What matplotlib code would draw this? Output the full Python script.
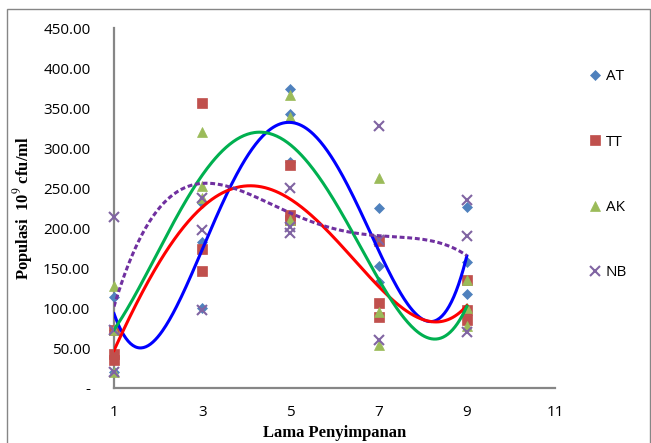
import numpy as np
import matplotlib
matplotlib.use('Agg')
import matplotlib.pyplot as plt
from matplotlib.patches import Rectangle

# lama penyimpanan (hari)
hari = [1, 3, 5, 7, 9]

# populasi tiap ulangan (3 ulangan per titik)
at_1 = [114, 231, 374, 225, 226]
at_2 = [72, 183, 342, 153, 158]
at_3 = [20, 100, 283, 133, 118]

tt_1 = [72, 356, 279, 184, 135]
tt_2 = [42, 174, 216, 106, 97]
tt_3 = [35, 146, 210, 89, 85]

ak_1 = [127, 320, 366, 262, 135]
ak_2 = [72, 252, 339, 95, 100]
ak_3 = [20, 238, 210, 54, 77]

nb_1 = [214, 197, 250, 328, 235]
nb_2 = [72, 97, 201, 185, 190]
nb_3 = [20, 237, 194, 60, 70]

# nilai garis tren (poly orde 4)
at_tren = [93, 173, 332, 172, 165]
tt_tren = [47, 226, 236, 127, 103]
ak_tren = [73, 266, 304, 136, 102]
# garis NB (titik-titik) dibaca tiap hari 1..9
hari_nb = [1, 2, 3, 4, 5, 6, 7, 8, 9]
nb_tren = [102, 222, 258, 243, 217, 200, 192, 184, 166]

yticks = [0, 50, 100, 150, 200, 250, 300, 350, 400, 450]
ytick_labels = ['-', '50.00', '100.00', '150.00', '200.00', '250.00',
                '300.00', '350.00', '400.00', '450.00']
xticks = [1, 3, 5, 7, 9, 11]

plt.rcParams['font.family'] = ['Open Sans', 'DejaVu Sans']
plt.rcParams['mathtext.fontset'] = 'stix'

fig = plt.figure(figsize=(6.51, 4.43), dpi=100)
ax = fig.add_axes([114 / 651, 55 / 443, 441 / 651, 360 / 443])

series = [
    ('AT', [at_1, at_2, at_3], hari, at_tren, 'D', '#4F81BD', '#0000FF', '-', 5.5),
    ('TT', [tt_1, tt_2, tt_3], hari, tt_tren, 's', '#C0504D', '#FF0000', '-', 6.5),
    ('AK', [ak_1, ak_2, ak_3], hari, ak_tren, '^', '#9BBB59', '#00B050', '-', 7.5),
    ('NB', [nb_1, nb_2, nb_3], hari_nb, nb_tren, 'x', '#8064A2', '#7030A0', (0, (1.6, 0.9)), 6.5),
]

xs = np.linspace(1, 9, 300)
for nama, ulangan, hx, tren, mk, warna, warna_garis, ls, ms in series:
    for i, u in enumerate(ulangan):
        ax.plot(hari, u, linestyle='none', marker=mk, color=warna, markersize=ms,
                markeredgewidth=1.5 if mk == 'x' else 0.5,
                label=nama if i == 0 else None, zorder=3, clip_on=False)
    coef = np.polyfit(hx, tren, 4)
    ax.plot(xs, np.polyval(coef, xs), color=warna_garis, linestyle=ls, linewidth=2.2, zorder=4)

ax.set_xlim(1, 11)
ax.set_ylim(0, 450)
ax.set_xticks(xticks)
ax.set_yticks(yticks)
ax.set_yticklabels(ytick_labels)
ax.tick_params(length=0, labelsize=11, pad=12)
ax.tick_params(axis='y', pad=17)
for s in ['top', 'right']:
    ax.spines[s].set_visible(False)
for s in ['left', 'bottom']:
    ax.spines[s].set_color('#868686')
    ax.spines[s].set_linewidth(1.6)

ax.set_xlabel('Lama Penyimpanan', family='Liberation Serif', fontweight='bold', fontsize=12, labelpad=4)
ax.set_ylabel('Populasi  10$^{9}$ cfu/ml', family='Liberation Serif', fontweight='bold', fontsize=12, labelpad=6)

leg = ax.legend(loc='upper left', bbox_to_anchor=(580 / 651, 380 / 443), bbox_transform=fig.transFigure,
                frameon=False, fontsize=11, labelspacing=3.3, handletextpad=0.1, handlelength=1.2,
                borderaxespad=0)

fig.patches.append(Rectangle((7 / 651, -0.01), 643 / 651, 1 - 9 / 443 + 0.01, transform=fig.transFigure,
                             fill=False, edgecolor='#868686', linewidth=1.0))

fig.savefig('out.png', dpi=100)
